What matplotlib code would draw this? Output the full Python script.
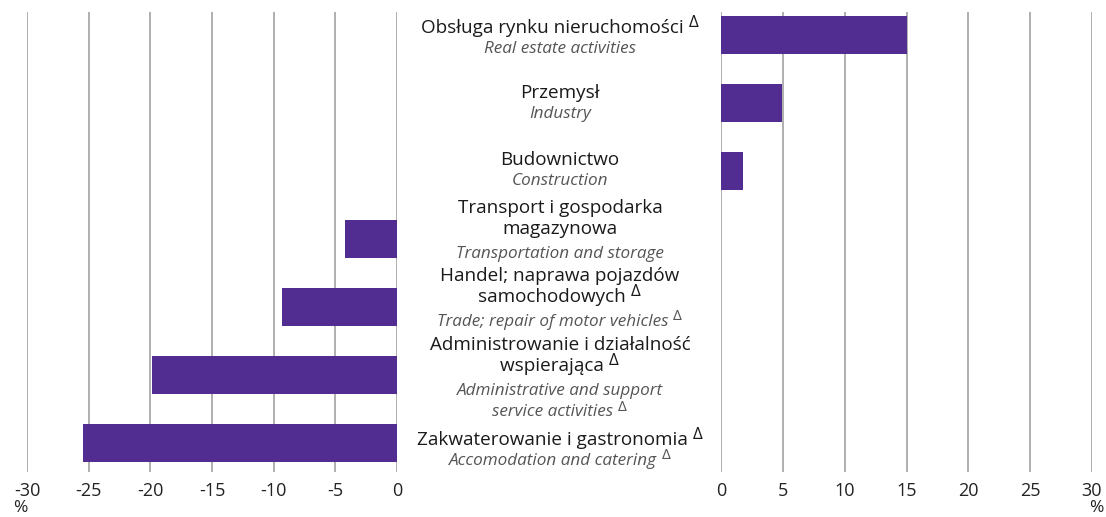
# -*- coding: utf-8 -*-
import matplotlib; matplotlib.use("Agg")
import matplotlib.pyplot as plt
import matplotlib.transforms as mtransforms
import numpy as np

plt.rcParams.update({"font.family": ["Open Sans", "DejaVu Sans"]})

# dane (od góry do dołu); "^" na końcu = przypis Δ
pl_labels = [
    ["Obsługa rynku nieruchomości^"],
    ["Przemysł"],
    ["Budownictwo"],
    ["Transport i gospodarka", "magazynowa"],
    ["Handel; naprawa pojazdów", "samochodowych^"],
    ["Administrowanie i działalność", "wspierająca^"],
    ["Zakwaterowanie i gastronomia^"],
]
en_labels = [
    ["Real estate activities"],
    ["Industry"],
    ["Construction"],
    ["Transportation and storage"],
    ["Trade; repair of motor vehicles^"],
    ["Administrative and support", "service activities^"],
    ["Accomodation and catering^"],
]
values = [15.0, 4.9, 1.8, -4.2, -9.3, -19.9, -25.5]
ticks_left = [-30, -25, -20, -15, -10, -5, 0]
ticks_right = [0, 5, 10, 15, 20, 25, 30]

# przesunięcie pierwszej linii etykiety względem środka słupka (px)
first_off = [-7, -10, -11, -31, -31, -30, -3]

PURPLE = "#512D91"
W, H = 1106, 517
fig = plt.figure(figsize=(W / 100, H / 100), dpi=100)
bot, top = 1 - 472 / H, 1 - 12 / H
axL = fig.add_axes([27 / W, bot, 370 / W, top - bot])
axR = fig.add_axes([721 / W, bot, 371 / W, top - bot])

y = np.arange(len(values))
neg = [min(v, 0) for v in values]
pos = [max(v, 0) for v in values]
axL.barh(y, neg, height=0.56, color=PURPLE, zorder=3)
axR.barh(y, pos, height=0.56, color=PURPLE, zorder=3)

for ax, lim, tks in [(axL, (-30, 0), ticks_left), (axR, (0, 30), ticks_right)]:
    ax.set_xlim(*lim)
    ax.set_ylim(6.43, -0.338)
    ax.set_xticks(tks)
    ax.set_xticklabels([str(t) for t in tks], fontsize=13, color="#222222")
    ax.tick_params(axis="x", length=0, pad=7)
    ax.set_yticks([])
    for s in ax.spines.values():
        s.set_visible(False)
    for t in tks:
        ax.axvline(t, color="#9a9a9a", lw=1.1, zorder=1)

fig.text(20 / W, 1 - 508 / H, "%", fontsize=12.5, color="#222222", ha="center", va="center")
fig.text(1096 / W, 1 - 508 / H, "%", fontsize=12.5, color="#222222", ha="center", va="center")

# etykiety w środku
xc = 560 / W
trans = mtransforms.blended_transform_factory(fig.transFigure, axL.transData)
renderer = fig.canvas.get_renderer()
for i in range(len(values)):
    lines = [(l, "normal", "#1a1a1a", 13.6) for l in pl_labels[i]] + \
            [(l, "italic", "#555555", 12.3) for l in en_labels[i]]
    off = first_off[i]
    prev = None
    for txt, style, col, fs in lines:
        if prev is not None:
            if prev == style:
                off += 21.5
            else:
                off += 21 if len(pl_labels[i]) == 1 else 24.5
        prev = style
        delta = txt.endswith("^")
        body = txt.rstrip("^")
        full = body + " Δ" if delta else body
        tr = trans + mtransforms.ScaledTranslation(0, -off / 100, fig.dpi_scale_trans)
        # wyśrodkuj całość (tekst + Δ), potem podmień Δ na indeks górny
        probe = fig.text(xc, i, full, transform=tr, ha="center", va="center",
                         fontsize=fs, style=style, color=col)
        if not delta:
            continue
        bb = probe.get_window_extent(renderer)
        probe.set_text(body + " ")
        probe.set_ha("left")
        probe.set_x(xc - bb.width / 2 / W)
        bb2 = probe.get_window_extent(renderer)
        trd = trans + mtransforms.ScaledTranslation(0, (-off + 5) / 100, fig.dpi_scale_trans)
        fig.text(bb2.x1 / W, i, "Δ", transform=trd, ha="left", va="center",
                 fontsize=fs * 0.9, style="normal", color=col)

fig.savefig("out.png", dpi=100)
